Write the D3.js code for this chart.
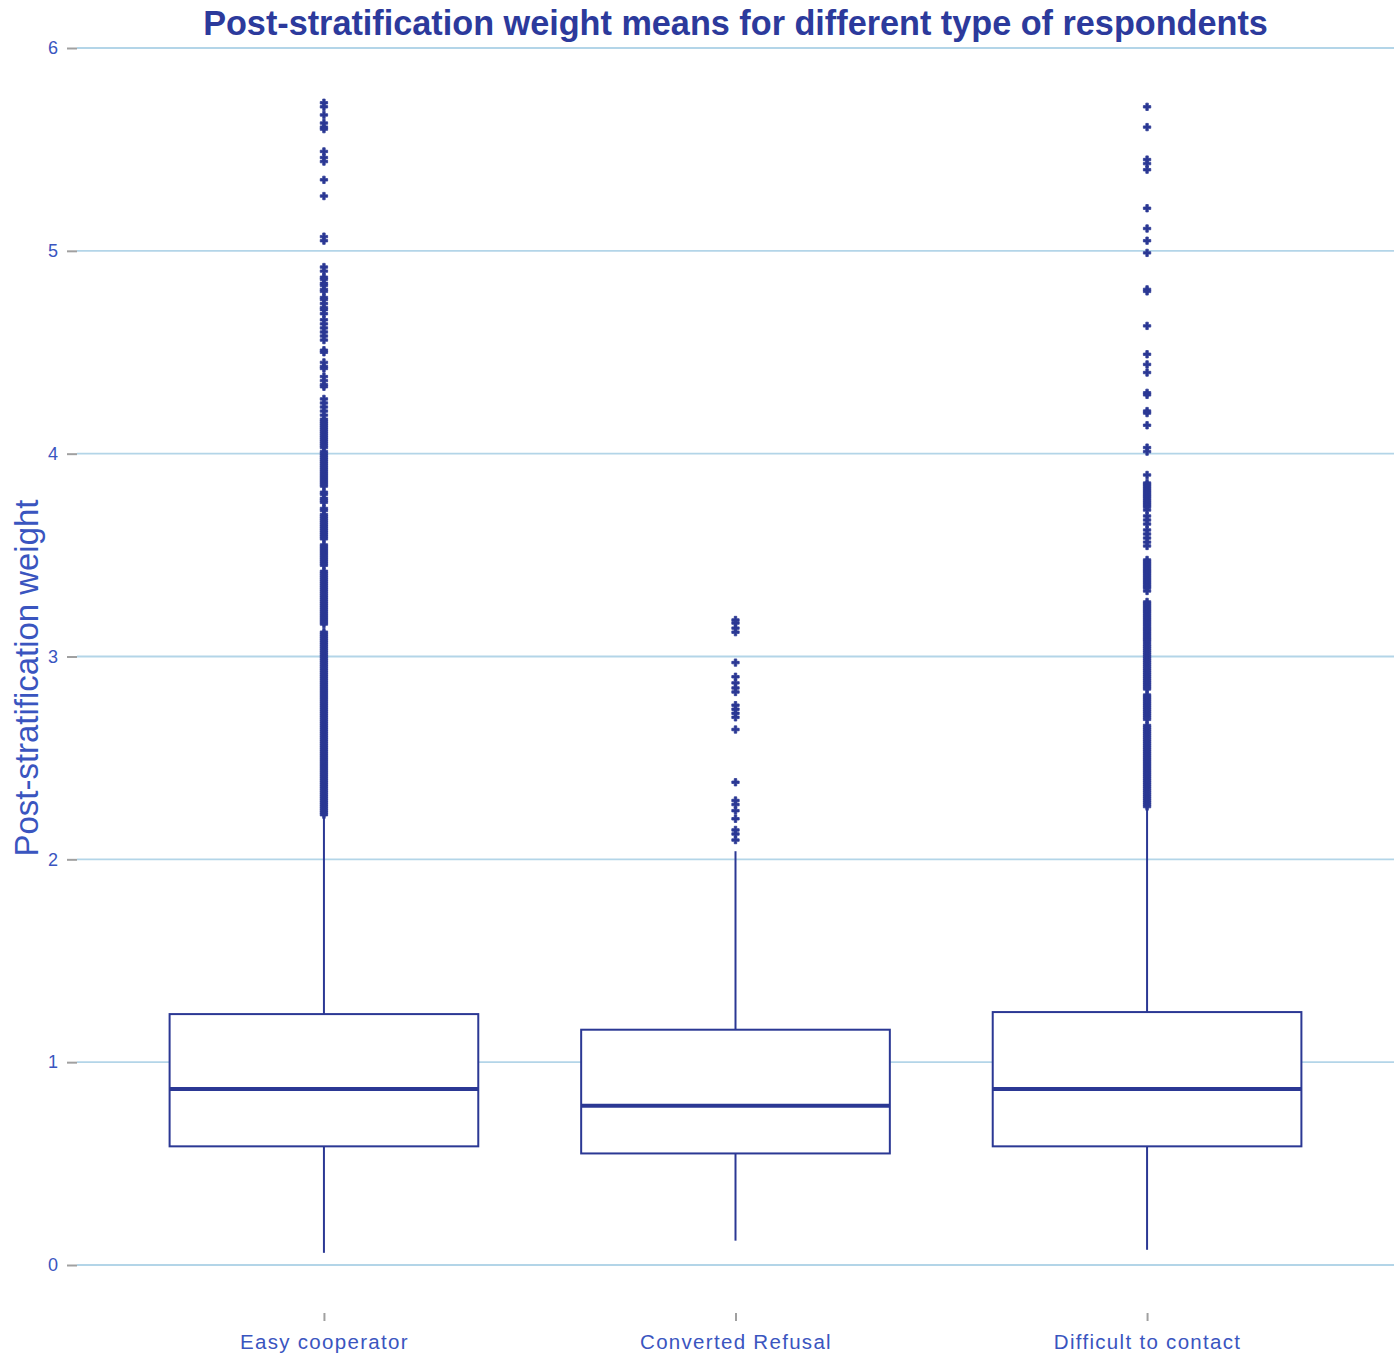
<!DOCTYPE html>
<html>
<head>
<meta charset="utf-8">
<script src="https://cdn.jsdelivr.net/npm/d3@7"></script>
<style>
  html, body { margin: 0; padding: 0; background: #fff; }
  svg { display: block; }
</style>
</head>
<body>
<svg id="chart" width="1394" height="1356"></svg>
<script>
// Respondent groups
const categories = ["Easy cooperator", "Converted Refusal", "Difficult to contact"];

// Box statistics per group: lower whisker, Q1, median, Q3, upper whisker
const whiskerLow  = [0.06, 0.12, 0.075];
const quartile1   = [0.585, 0.55, 0.585];
const medians     = [0.868, 0.785, 0.868];
const quartile3   = [1.237, 1.16, 1.247];
const whiskerHigh = [2.21, 2.04, 2.25];

// Outlying weights per group
const outliersEasy = [
  5.73, 5.71, 5.67, 5.63, 5.61, 5.60, 5.49, 5.46, 5.44, 5.35, 5.27, 5.07, 5.05,
  4.92, 4.90, 4.87, 4.86, 4.84, 4.83, 4.81, 4.80, 4.77, 4.76, 4.74, 4.72, 4.71, 4.69,
  4.66, 4.64, 4.62, 4.60, 4.58, 4.56, 4.51, 4.50, 4.45, 4.43, 4.42,
  4.38, 4.36, 4.34, 4.33, 4.27, 4.25, 4.23,
  4.21, 4.19, 4.17, 4.16, 4.15, 4.14, 4.13, 4.12, 4.11, 4.10, 4.09, 4.08, 4.07,
  4.06, 4.05, 4.04, 4.03, 4.01,
  4.00, 3.99, 3.98, 3.97, 3.96, 3.95, 3.94, 3.93, 3.92, 3.91, 3.90, 3.89, 3.88,
  3.87, 3.86, 3.85, 3.84, 3.81, 3.80, 3.78, 3.77, 3.76, 3.73, 3.72,
  3.70, 3.69, 3.68, 3.67, 3.66, 3.65, 3.64, 3.63, 3.62, 3.61, 3.60, 3.59, 3.58,
  3.55, 3.54, 3.53, 3.52, 3.51, 3.50, 3.49, 3.48, 3.47, 3.46, 3.45,
  3.42, 3.41, 3.40, 3.39, 3.38, 3.37, 3.36, 3.35, 3.34, 3.33, 3.32, 3.31, 3.30,
  3.29, 3.28, 3.27, 3.26, 3.25, 3.24, 3.23, 3.22, 3.21, 3.20, 3.19, 3.18, 3.17,
  3.16, 3.12, 3.11, 3.10, 3.09, 3.08, 3.07, 3.06, 3.05, 3.04, 3.03, 3.02, 3.01,
  3.00, 2.99, 2.98, 2.97, 2.96, 2.95, 2.94, 2.93, 2.92, 2.91, 2.90, 2.89, 2.88,
  2.87, 2.86, 2.85, 2.84, 2.83, 2.82, 2.81, 2.80, 2.79, 2.78, 2.77, 2.76, 2.75,
  2.74, 2.73, 2.72, 2.71, 2.70, 2.69, 2.68, 2.67, 2.66, 2.65, 2.64, 2.63, 2.62,
  2.61, 2.60, 2.59, 2.58, 2.57, 2.56, 2.55, 2.54, 2.53, 2.52, 2.51, 2.50, 2.49,
  2.48, 2.47, 2.46, 2.45, 2.44, 2.43, 2.42, 2.41, 2.40, 2.39, 2.38, 2.37, 2.36,
  2.35, 2.34, 2.33, 2.32, 2.31, 2.30, 2.29, 2.28, 2.27, 2.26, 2.25, 2.24, 2.23,
  2.22
];
const outliersConverted = [
  3.18, 3.165, 3.14, 3.12, 2.97, 2.90, 2.87, 2.845, 2.825, 2.76, 2.74, 2.72, 2.70,
  2.64, 2.38, 2.29, 2.27, 2.24, 2.20, 2.145, 2.125, 2.095
];
const outliersDifficult = [
  5.71, 5.61, 5.45, 5.43, 5.40, 5.21, 5.11, 5.05, 4.99, 4.81, 4.80, 4.63, 4.49,
  4.44, 4.40, 4.30, 4.29, 4.21, 4.20, 4.14, 4.03, 4.01, 3.895,
  3.855, 3.846, 3.836, 3.826, 3.816, 3.806, 3.796, 3.787, 3.777, 3.767, 3.757,
  3.747, 3.737, 3.722,
  3.693, 3.673, 3.653, 3.624, 3.604, 3.584, 3.564, 3.545,
  3.476, 3.466, 3.456, 3.446, 3.436, 3.426, 3.417, 3.407, 3.397, 3.387, 3.377,
  3.367, 3.357, 3.347, 3.338, 3.323,
  3.269, 3.259, 3.249, 3.239, 3.229, 3.22, 3.21, 3.20, 3.19, 3.18, 3.17, 3.16,
  3.15, 3.14, 3.131, 3.121, 3.111, 3.101, 3.091, 3.082, 3.072,
  3.06, 3.05, 3.04, 3.03, 3.02, 3.01, 3.00, 2.99, 2.98, 2.97, 2.96, 2.95, 2.94,
  2.93, 2.92, 2.91, 2.90, 2.89, 2.88, 2.87, 2.86, 2.85, 2.84,
  2.81, 2.80, 2.79, 2.78, 2.77, 2.76, 2.75, 2.74, 2.73, 2.72, 2.71, 2.70, 2.69,
  2.66, 2.65, 2.64, 2.63, 2.62, 2.61, 2.60, 2.59, 2.58, 2.57, 2.56, 2.55, 2.54,
  2.53, 2.52, 2.51, 2.50, 2.49, 2.48, 2.47, 2.46, 2.45, 2.44, 2.43, 2.42, 2.41,
  2.40, 2.39, 2.38, 2.37, 2.36, 2.35, 2.34, 2.33, 2.32, 2.31, 2.30, 2.29, 2.28,
  2.27, 2.26
];
const outliers = [outliersEasy, outliersConverted, outliersDifficult];

const yTicks = [0, 1, 2, 3, 4, 5, 6];

const titleText = "Post-stratification weight means for different type of respondents";
const yTitleText = "Post-stratification weight";

// Layout
const plotLeft = 77, plotRight = 1394, plotTop = 48, plotBottom = 1265;
const boxColor = "#2b3894";
const gridColor = "#b3d5e8";
const labelColor = "#3a55bf";
const fontFamily = "Liberation Sans, Arial, sans-serif";

const svg = d3.select("#chart");

const x = d3.scalePoint().domain(categories).range([plotLeft, plotRight]).padding(0.6);
const y = d3.scaleLinear().domain([0, 6]).range([plotBottom, plotTop]);
const boxWidth = x.step() * 0.75;

// Horizontal gridlines
svg.append("g").selectAll("line").data(yTicks).join("line")
  .attr("x1", plotLeft).attr("x2", plotRight)
  .attr("y1", d => y(d)).attr("y2", d => y(d))
  .attr("stroke", gridColor).attr("stroke-width", 1.8);

// Y axis (ticks and labels, no domain line)
const yAxis = svg.append("g")
  .attr("transform", `translate(${plotLeft},0)`)
  .call(d3.axisLeft(y).tickValues(yTicks).tickSize(10).tickPadding(9).tickFormat(d3.format("d")));
yAxis.select(".domain").remove();
yAxis.selectAll(".tick line").attr("stroke", "#a0a0a0").attr("stroke-width", 2);
yAxis.selectAll(".tick text")
  .attr("fill", labelColor).attr("font-family", fontFamily)
  .attr("font-size", 18);

// X axis (ticks and labels, no domain line)
const xAxis = svg.append("g")
  .attr("transform", `translate(0,${1313})`)
  .call(d3.axisBottom(x).tickSize(8).tickPadding(13));
xAxis.select(".domain").remove();
xAxis.selectAll(".tick line").attr("stroke", "#a0a0a0").attr("stroke-width", 2);
xAxis.selectAll(".tick text")
  .attr("fill", labelColor).attr("font-family", fontFamily)
  .attr("font-size", 20.5)
  .attr("letter-spacing", 1.3);

// Boxplots
const groups = svg.append("g").selectAll("g").data(categories).join("g")
  .attr("transform", d => `translate(${x(d)},0)`);

// Whiskers
groups.append("line")
  .attr("x1", 0).attr("x2", 0)
  .attr("y1", (d, i) => y(quartile3[i])).attr("y2", (d, i) => y(whiskerHigh[i]))
  .attr("stroke", boxColor).attr("stroke-width", 2);
groups.append("line")
  .attr("x1", 0).attr("x2", 0)
  .attr("y1", (d, i) => y(quartile1[i])).attr("y2", (d, i) => y(whiskerLow[i]))
  .attr("stroke", boxColor).attr("stroke-width", 2);

// Boxes
groups.append("rect")
  .attr("x", -boxWidth / 2).attr("width", boxWidth)
  .attr("y", (d, i) => y(quartile3[i]))
  .attr("height", (d, i) => y(quartile1[i]) - y(quartile3[i]))
  .attr("fill", "#fff").attr("stroke", boxColor).attr("stroke-width", 2);

// Medians
groups.append("line")
  .attr("x1", -boxWidth / 2).attr("x2", boxWidth / 2)
  .attr("y1", (d, i) => y(medians[i])).attr("y2", (d, i) => y(medians[i]))
  .attr("stroke", boxColor).attr("stroke-width", 4);

// Outlier markers
const cross = d3.symbol().type(d3.symbolCross).size(30);
groups.each(function(d, i) {
  d3.select(this).selectAll("path.outlier").data(outliers[i]).join("path")
    .attr("class", "outlier")
    .attr("d", cross)
    .attr("transform", v => `translate(0,${y(v)})`)
    .attr("fill", boxColor)
    .attr("stroke", boxColor).attr("stroke-width", 0.8);
});

// Title, fitted to its width
const title = svg.append("text")
  .attr("x", 735.5).attr("y", 35)
  .attr("text-anchor", "middle")
  .attr("font-family", fontFamily)
  .attr("font-weight", "bold")
  .attr("fill", "#2c3a9c")
  .attr("font-size", 30)
  .text(titleText);
const tw = title.node().getComputedTextLength();
title.attr("font-size", 30 * 1065 / tw);

// Y-axis title, fitted to its length
const yTitle = svg.append("text")
  .attr("transform", `translate(38,678) rotate(-90)`)
  .attr("text-anchor", "middle")
  .attr("font-family", fontFamily)
  .attr("fill", labelColor)
  .attr("font-size", 27)
  .text(yTitleText);
const yw = yTitle.node().getComputedTextLength();
yTitle.attr("font-size", 27 * 357 / yw);
</script>
</body>
</html>
